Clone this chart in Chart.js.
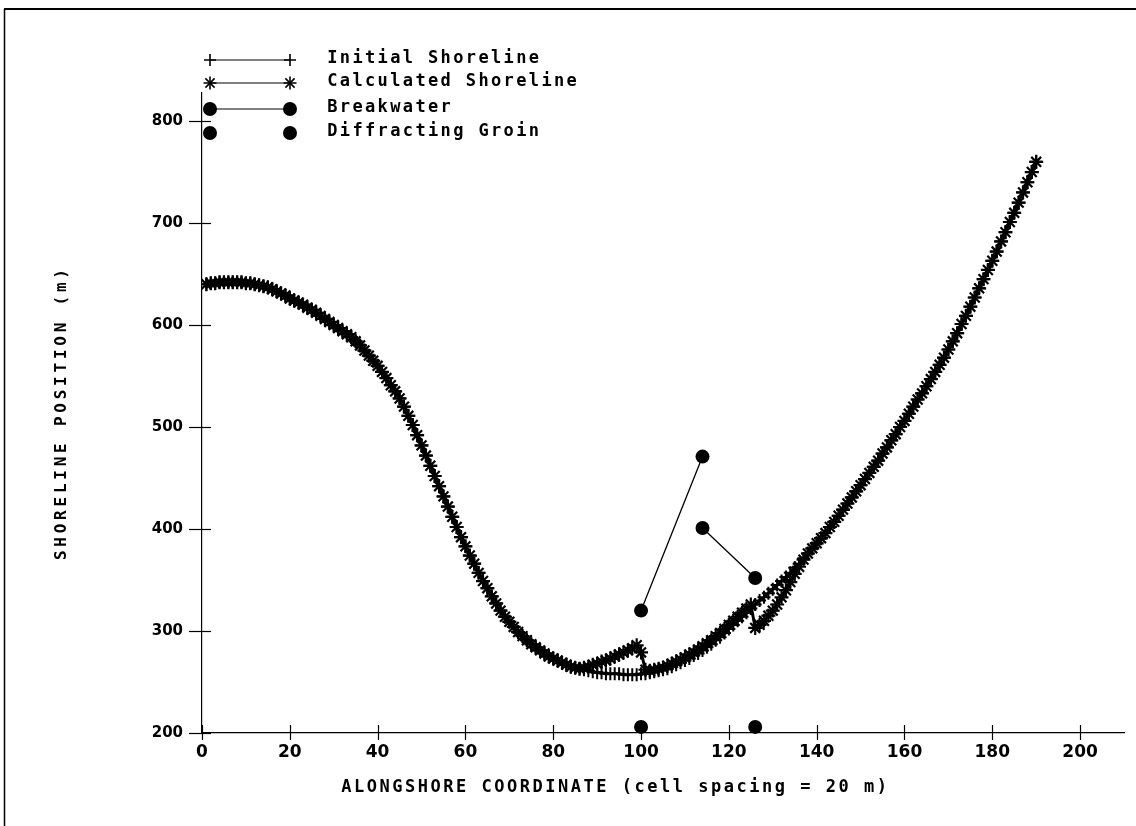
<!DOCTYPE html>
<html>
<head>
<meta charset="utf-8">
<script src="https://cdn.jsdelivr.net/npm/chart.js@4.4.1/dist/chart.umd.min.js"></script>
<style>
html,body{margin:0;padding:0;background:#fff;}
#wrap{width:1136px;height:826px;position:relative;}
</style>
</head>
<body>
<div id="wrap"><canvas id="c" width="1136" height="826"></canvas></div>
<script>
// ---- data ----
const firstCell = 1; // alongshore cell index of first value
const initialShoreline = [
640,641,641,642,642,642,642,642,642,641, 641,640,639,638,637,635,633,631,629,626,
624,622,620,617,615,612,609,606,603,600, 597,594,591,588,584,580,575,570,565,560,
554,548,541,535,528,520,511,502,492,482, 472,462,452,442,432,422,412,402,392,383,
374,366,357,349,342,334,327,320,314,309, 304,299,295,291,287,284,281,278,275,273,
271,269,267,265,264,263,262,261,260,259, 259,258,258,258,258,257,257,257,257,258,
258,259,260,261,262,263,265,267,269,271, 273,276,278,281,284,287,291,294,298,302,
306,310,314,318,322,326,330,333,337,341, 345,349,353,357,362,366,371,376,381,386,
391,396,402,407,413,419,425,431,437,443, 449,455,461,467,474,480,487,493,500,506,
513,520,527,533,540,547,554,561,568,576, 584,592,601,609,618,627,636,645,654,663,
672,682,691,701,710,720,730,740,750,760
];
const calculatedShoreline = [
640,641,641,642,642,642,642,642,642,641, 641,640,639,638,637,635,633,631,629,626,
624,622,620,617,615,612,609,606,603,600, 597,594,591,588,584,580,575,570,565,560,
554,548,541,535,528,520,511,502,492,482, 472,462,452,442,432,422,412,402,392,383,
374,366,357,349,342,334,327,320,314,309, 304,299,295,291,287,284,281,278,275,273,
271,269,267,265,264,263,264,265,267,268, 270,271,273,275,277,279,281,283,286,279,
262,261,262,263,264,266,268,270,272,274, 277,279,282,285,288,291,295,298,302,306,
310,314,318,322,326,303,306,310,315,320, 326,333,340,348,356,363,370,376,381,386,
391,396,402,407,413,419,425,431,437,443, 449,455,461,467,474,480,487,493,500,506,
513,520,527,533,540,547,554,561,568,576, 584,592,601,609,618,627,636,645,654,663,
672,682,691,701,710,720,730,740,750,760
];
const breakwaterX = [100, 114, 114, 114, 126];
const breakwaterY = [320, 471, null, 401, 352];
const groinX = [100, 126];
const groinY = [206, 206];
const xTicks = [0, 20, 40, 60, 80, 100, 120, 140, 160, 180, 200];
const yTicks = [200, 300, 400, 500, 600, 700, 800];
const seriesLabels = ['Initial Shoreline', 'Calculated Shoreline', 'Breakwater', 'Diffracting Groin'];
const xTitle = 'ALONGSHORE COORDINATE (cell spacing = 20 m)';
const yTitle = 'SHORELINE POSITION (m)';

// ---- helpers ----
const toPts = (ys, x0) => ys.map((y, i) => ({x: x0 + i, y}));
const pairPts = (xs, ys) => xs.map((x, i) => ({x, y: ys[i]}));
const MONO = '"DejaVu Sans Mono", "Liberation Mono", monospace';

function spacedText(ctx, text, x, y, advance) {
  for (let i = 0; i < text.length; i++) {
    ctx.fillText(text[i], x + i * advance + advance / 2, y);
  }
}

const decorPlugin = {
  id: 'decor',
  afterDraw(chart) {
    const ctx = chart.ctx;
    const xs = chart.scales.x, ys = chart.scales.y;
    ctx.save();
    ctx.strokeStyle = '#000';
    ctx.fillStyle = '#000';
    // page frame
    ctx.lineWidth = 2;
    ctx.beginPath(); ctx.moveTo(4, 9); ctx.lineTo(1136, 9); ctx.stroke();
    ctx.lineWidth = 1.5;
    ctx.beginPath(); ctx.moveTo(4.5, 9); ctx.lineTo(4.5, 826); ctx.stroke();
    // tick marks crossing the axes
    ctx.lineWidth = 1.2;
    xTicks.forEach(v => {
      const p = Math.round(xs.getPixelForValue(v)) + 0.5;
      ctx.beginPath(); ctx.moveTo(p, ys.bottom - 8); ctx.lineTo(p, ys.bottom + 7); ctx.stroke();
    });
    yTicks.forEach(v => {
      const p = Math.round(ys.getPixelForValue(v)) + 0.5;
      ctx.beginPath(); ctx.moveTo(xs.left - 13, p); ctx.lineTo(xs.left + 9, p); ctx.stroke();
    });
    // axis titles
    ctx.font = 'bold 17px ' + MONO;
    ctx.textAlign = 'center';
    ctx.textBaseline = 'middle';
    spacedText(ctx, xTitle, 340, 788, 12.75);
    ctx.save();
    ctx.translate(62, 562);
    ctx.rotate(-Math.PI / 2);
    ctx.font = 'bold 16px ' + MONO;
    spacedText(ctx, yTitle, 0, 0, 13.4);
    ctx.restore();
    // legend
    const rows = [60, 83, 109, 133];
    const x1 = 210, x2 = 290;
    ctx.lineWidth = 1.2;
    for (let r = 0; r < 3; r++) {
      ctx.beginPath(); ctx.moveTo(x1, rows[r]); ctx.lineTo(x2, rows[r]); ctx.stroke();
    }
    const drawCross = (x, y, s) => { ctx.beginPath(); ctx.moveTo(x - s, y); ctx.lineTo(x + s, y); ctx.moveTo(x, y - s); ctx.lineTo(x, y + s); ctx.stroke(); };
    const drawStar = (x, y, s) => {
      drawCross(x, y, s);
      const d = s * Math.SQRT1_2;
      ctx.beginPath(); ctx.moveTo(x - d, y - d); ctx.lineTo(x + d, y + d); ctx.moveTo(x - d, y + d); ctx.lineTo(x + d, y - d); ctx.stroke();
    };
    const drawDot = (x, y, r) => { ctx.beginPath(); ctx.arc(x, y, r, 0, Math.PI * 2); ctx.fill(); };
    ctx.lineWidth = 1.6;
    drawCross(x1, rows[0], 6); drawCross(x2, rows[0], 6);
    drawStar(x1, rows[1], 6.5); drawStar(x2, rows[1], 6.5);
    drawDot(x1, rows[2], 7); drawDot(x2, rows[2], 7);
    drawDot(x1, rows[3], 7); drawDot(x2, rows[3], 7);
    ctx.font = 'bold 17px ' + MONO;
    seriesLabels.forEach((t, i) => spacedText(ctx, t, 326, rows[i] - 1, 12.6));
    ctx.restore();
  }
};

const chart = new Chart(document.getElementById('c'), {
  type: 'scatter',
  data: {
    datasets: [
      {
        label: seriesLabels[0],
        data: toPts(initialShoreline, firstCell),
        showLine: true,
        borderColor: '#000', borderWidth: 3,
        pointStyle: 'cross', pointRadius: 6.5, pointBorderWidth: 2,
        pointBorderColor: '#000', pointBackgroundColor: '#000'
      },
      {
        label: seriesLabels[1],
        data: toPts(calculatedShoreline, firstCell),
        showLine: true,
        borderColor: '#000', borderWidth: 3,
        pointStyle: 'star', pointRadius: 7, pointBorderWidth: 2.2,
        pointBorderColor: '#000', pointBackgroundColor: '#000'
      },
      {
        label: seriesLabels[2],
        data: pairPts(breakwaterX, breakwaterY),
        showLine: true, spanGaps: false,
        borderColor: '#000', borderWidth: 1.3,
        pointStyle: 'circle', pointRadius: 7, pointBorderWidth: 0,
        pointBackgroundColor: '#000', pointBorderColor: '#000'
      },
      {
        label: seriesLabels[3],
        data: pairPts(groinX, groinY),
        showLine: false, clip: false,
        pointStyle: 'circle', pointRadius: 7, pointBorderWidth: 0,
        pointBackgroundColor: '#000', pointBorderColor: '#000'
      }
    ]
  },
  options: {
    responsive: false,
    animation: false,
    devicePixelRatio: 1,
    layout: {padding: {left: 0, top: 93, right: 12, bottom: 0}},
    plugins: {legend: {display: false}, tooltip: {enabled: false}},
    scales: {
      x: {
        type: 'linear', min: 0, max: 210,
        grid: {display: false, drawTicks: false},
        border: {display: true, color: '#000', width: 1.2},
        ticks: {
          color: '#000', padding: 9, maxRotation: 0, autoSkip: false,
          font: {family: '"DejaVu Sans"', weight: 'bold', size: 17}
        },
        afterBuildTicks: s => { s.ticks = xTicks.map(v => ({value: v})); },
        afterFit: s => { s.height = 93; }
      },
      y: {
        type: 'linear', min: 200, max: 827.5,
        grid: {display: false, drawTicks: false},
        border: {display: true, color: '#000', width: 1.2},
        ticks: {
          color: '#000', padding: 19, autoSkip: false,
          font: {family: '"DejaVu Sans"', weight: 'bold', size: 15}
        },
        afterBuildTicks: s => { s.ticks = yTicks.map(v => ({value: v})); },
        afterFit: s => { s.width = 202; }
      }
    }
  },
  plugins: [decorPlugin]
});
</script>
</body>
</html>
